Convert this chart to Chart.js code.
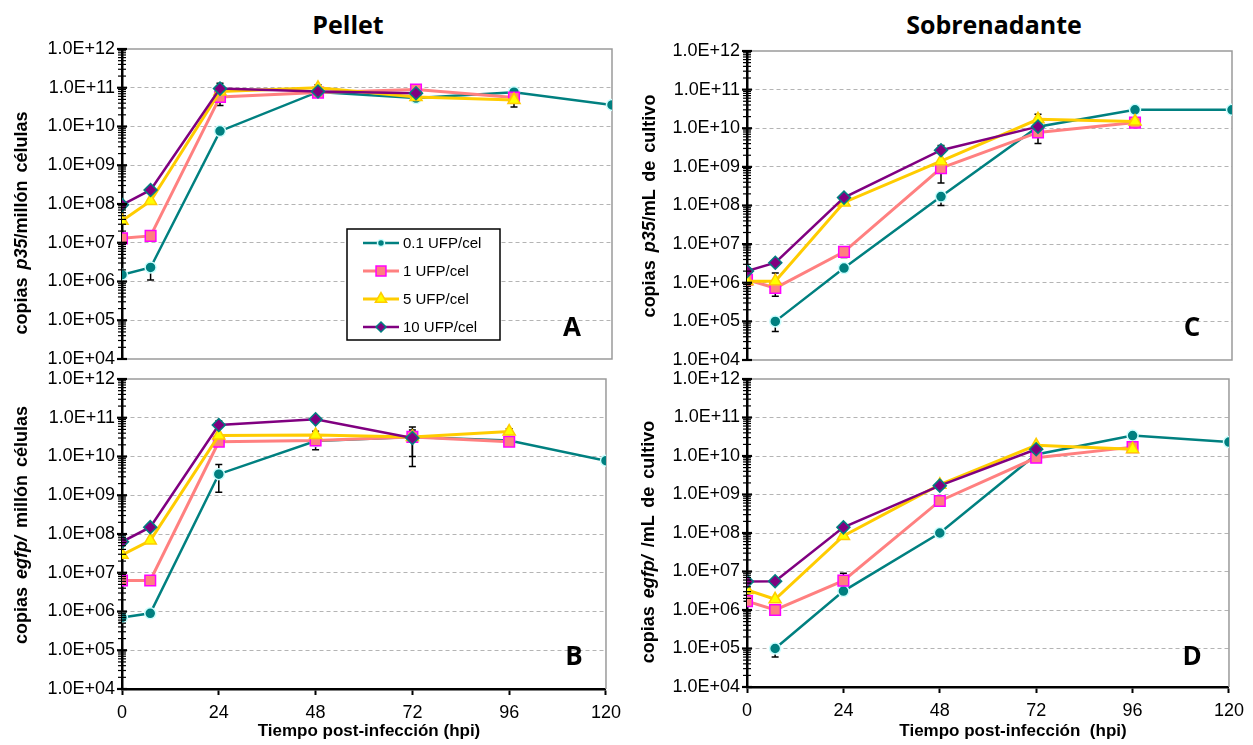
<!DOCTYPE html>
<html lang="es">
<head>
<meta charset="utf-8">
<title>Copias p35 y egfp</title>
<script src="https://cdn.jsdelivr.net/npm/chart.js@4.4.1/dist/chart.umd.min.js"></script>
<style>
  body { margin: 0; background: #fff; }
  #fig { position: relative; width: 1253px; height: 745px; overflow: hidden; font-family: 'Liberation Sans', Arial, sans-serif; color: #000; }
  #fig canvas { position: absolute; }
  .head { position: absolute; top: 24px; transform: translate(-50%, -50%); font: bold 25px 'Open Sans', sans-serif; white-space: nowrap; }
  .ytitle { position: absolute; transform: translate(-50%, -50%) rotate(-90deg); font-weight: bold; font-size: 18px; white-space: nowrap; word-spacing: 3px; }
  .xtitle { position: absolute; top: 731px; transform: translate(-50%, -50%); font-weight: bold; font-size: 17px; white-space: nowrap; }
  .tag { position: absolute; transform: translate(-50%, -50%); font: bold 26px 'Open Sans', sans-serif; }
</style>
</head>
<body>
<div id="fig">
  <div class="head" style="left:348px">Pellet</div>
  <div class="head" style="left:994px">Sobrenadante</div>

  <canvas id="panelA" width="630" height="342" style="left:0;top:33px"></canvas>
  <canvas id="panelB" width="630" height="382" style="left:0;top:363px"></canvas>
  <canvas id="panelC" width="623" height="341" style="left:630px;top:35px"></canvas>
  <canvas id="panelD" width="623" height="382" style="left:630px;top:363px"></canvas>

  <div class="ytitle" style="left:21px;top:223px">copias <i>p35</i>/millón células</div>
  <div class="ytitle" style="left:21px;top:525px">copias <i>egfp/</i> millón células</div>
  <div class="ytitle" style="left:649px;top:206px">copias <i>p35</i>/mL de cultivo</div>
  <div class="ytitle" style="left:648px;top:542px">copias <i>egfp/</i> /mL de cultivo</div>

  <div class="xtitle" style="left:369px">Tiempo post-infección (hpi)</div>
  <div class="xtitle" style="left:1013px">Tiempo post-infección&nbsp; (hpi)</div>

  <div class="tag" style="left:572px;top:326px">A</div>
  <div class="tag" style="left:574px;top:655px">B</div>
  <div class="tag" style="left:1192px;top:326px">C</div>
  <div class="tag" style="left:1192px;top:655px">D</div>
</div>

<script>
const hours = [0, 7, 24, 48, 72, 96, 120];
const hourTicks = [0, 24, 48, 72, 96, 120];
const moiLabels = ['0.1 UFP/cel', '1 UFP/cel', '5 UFP/cel', '10 UFP/cel'];
const yDecades = [1e4, 1e5, 1e6, 1e7, 1e8, 1e9, 1e10, 1e11, 1e12];

// A: p35, pellet (copias / millón células)
const pelletP35_01 = [1.5e6, 2.3e6, 7.6e9, 7.8e10, 5.4e10, 7.7e10, 3.6e10];
const pelletP35_1 = [1.3e7, 1.5e7, 5.8e10, 7.5e10, 9.0e10, 5.6e10, null];
const pelletP35_5 = [3.7e7, 1.2e8, 8.0e10, 1.0e11, 5.8e10, 4.8e10, null];
const pelletP35_10 = [9.5e7, 2.3e8, 9.5e10, 8.0e10, 7.2e10, null, null];

// B: egfp, pellet
const pelletEgfp_01 = [7.0e5, 9.0e5, 3.5e9, 2.5e10, 3.2e10, 2.6e10, 7.8e9];
const pelletEgfp_1 = [6.3e6, 6.3e6, 2.4e10, 2.6e10, 3.2e10, 2.4e10, null];
const pelletEgfp_5 = [2.9e7, 6.8e7, 3.5e10, 3.6e10, 3.2e10, 4.4e10, null];
const pelletEgfp_10 = [6.3e7, 1.5e8, 6.5e10, 9.1e10, 3.0e10, null, null];

// C: p35, sobrenadante (copias / mL de cultivo)
const supP35_01 = [null, 1.0e5, 2.4e6, 1.7e8, 1.1e10, 3.0e10, 3.0e10];
const supP35_1 = [1.2e6, 7.3e5, 6.3e6, 9.3e8, 7.8e9, 1.4e10, null];
const supP35_5 = [1.1e6, 1.1e6, 1.2e8, 1.4e9, 1.7e10, 1.5e10, null];
const supP35_10 = [2.0e6, 3.3e6, 1.6e8, 2.7e9, 1.1e10, null, null];

// D: egfp, sobrenadante
const supEgfp_01 = [null, 1.0e5, 3.1e6, 1.0e8, 1.1e10, 3.4e10, 2.3e10];
const supEgfp_1 = [1.7e6, 1.0e6, 5.8e6, 6.8e8, 9.0e9, 1.7e10, null];
const supEgfp_5 = [3.3e6, 1.9e6, 8.4e7, 1.8e9, 1.9e10, 1.5e10, null];
const supEgfp_10 = [5.5e6, 5.6e6, 1.4e8, 1.7e9, 1.5e10, null, null];

// error bars: [hpi, low, high]
const errA = [[7, 1.1e6, 2.3e6], [7, 1.1e7, 1.5e7], [24, 3.5e10, 1.3e11], [48, 7.0e10, 1.2e11], [96, 3.2e10, 4.8e10]];
const errB = [[0, 5.2e5, 7.0e5], [24, 1.2e9, 6.2e9], [24, 6.5e10, 8.2e10], [48, 1.5e10, 4.5e10], [72, 5.5e9, 5.8e10], [72, 1.0e10, 4.8e10], [96, 2.2e10, 5.2e10]];
const errC = [[7, 5.5e4, 1.0e5], [7, 4.5e5, 1.8e6], [24, 4.5e6, 6.3e6], [48, 1.0e8, 1.7e8], [48, 3.8e8, 9.3e8], [48, 2.7e9, 3.6e9], [72, 4.0e9, 2.3e10]];
const errD = [[0, 1.7e6, 2.4e6], [7, 6.0e4, 1.0e5], [24, 5.8e6, 9.0e6]];

const seriesStyle = [
  { line: '#008080', fill: '#008080', edge: '#CCFFFF', shape: 'circle', radius: 5.5, width: 2.5 },
  { line: '#FF8080', fill: '#FF8080', edge: '#FF00FF', shape: 'rect', radius: 7.5, width: 3 },
  { line: '#FFCC00', fill: '#FFFF00', edge: '#FFCC00', shape: 'triangle', radius: 7, width: 3 },
  { line: '#800080', fill: '#800080', edge: '#008080', shape: 'rectRot', radius: 6.5, width: 2.5 },
];

// 18px line box -> label half height 9, + 7 padding = 16px overhang at top/bottom of y axis
const tickFont = { family: "'Liberation Sans', Arial, sans-serif", size: 18, lineHeight: 1 };

const isDecade = v => Math.abs(Math.log10(v) - Math.round(Math.log10(v))) < 1e-9;
const sciLabel = v => '1.0E+' + String(Math.round(Math.log10(v))).padStart(2, '0');

// decades plus 2..9 minor steps
const yTickValues = [];
yDecades.forEach((d, i) => {
  yTickValues.push(d);
  if (i < yDecades.length - 1) for (let m = 2; m <= 9; m++) yTickValues.push(m * d);
});

function points(vals) {
  return hours.map((h, i) => ({ x: h, y: vals[i] })).filter(p => p.y !== null);
}

function drawMarker(ctx, shape, x, y, r, fill, edge) {
  ctx.beginPath();
  if (shape === 'circle') {
    ctx.arc(x, y, r, 0, Math.PI * 2);
  } else if (shape === 'rect') {
    const h = r * Math.SQRT1_2;
    ctx.rect(x - h, y - h, 2 * h, 2 * h);
  } else if (shape === 'triangle') {
    for (let k = 0; k < 3; k++) {
      const a = k * 2 * Math.PI / 3;
      const px = x + Math.sin(a) * r, py = y - Math.cos(a) * r;
      k ? ctx.lineTo(px, py) : ctx.moveTo(px, py);
    }
    ctx.closePath();
  } else {
    ctx.moveTo(x, y - r); ctx.lineTo(x + r, y); ctx.lineTo(x, y + r); ctx.lineTo(x - r, y);
    ctx.closePath();
  }
  ctx.fillStyle = fill;
  ctx.fill();
  ctx.lineWidth = 1.5;
  ctx.strokeStyle = edge;
  ctx.stroke();
}

// grey frame on top/right (and bottom when there is no x axis)
const framePlugin = {
  id: 'frame',
  beforeDatasetsDraw(chart, args, opts) {
    const { ctx, chartArea: a } = chart;
    ctx.save();
    ctx.strokeStyle = '#9a9a9a';
    ctx.lineWidth = 1.5;
    ctx.beginPath();
    ctx.moveTo(a.left, a.top); ctx.lineTo(a.right, a.top); ctx.lineTo(a.right, a.bottom);
    if (!opts.bottomAxis) ctx.lineTo(a.left, a.bottom);
    ctx.stroke();
    ctx.restore();
  }
};

const errorBarPlugin = {
  id: 'errorBars',
  beforeDatasetsDraw(chart, args, opts) {
    const { ctx, scales: { x, y } } = chart;
    ctx.save();
    ctx.strokeStyle = '#000';
    ctx.lineWidth = 1.5;
    (opts.bars || []).forEach(([h, lo, hi]) => {
      const px = x.getPixelForValue(h);
      const y1 = y.getPixelForValue(lo), y2 = y.getPixelForValue(hi);
      ctx.beginPath();
      ctx.moveTo(px, y1); ctx.lineTo(px, y2);
      ctx.moveTo(px - 3.5, y1); ctx.lineTo(px + 3.5, y1);
      ctx.moveTo(px - 3.5, y2); ctx.lineTo(px + 3.5, y2);
      ctx.stroke();
    });
    ctx.restore();
  }
};

// tick marks crossing the log axis
const crossTicksPlugin = {
  id: 'crossTicks',
  afterDraw(chart) {
    const { ctx, scales: { y } } = chart;
    const x0 = y.right;
    ctx.save();
    ctx.strokeStyle = '#000';
    y.ticks.forEach(t => {
      const py = y.getPixelForValue(t.value);
      const major = isDecade(t.value);
      const len = major ? 5 : 4;
      ctx.lineWidth = major ? 2.2 : 1.2;
      ctx.beginPath();
      ctx.moveTo(x0 - len, py); ctx.lineTo(x0 + len, py);
      ctx.stroke();
    });
    ctx.restore();
  }
};

const boxLegendPlugin = {
  id: 'boxLegend',
  afterDatasetsDraw(chart, args, opts) {
    if (!opts.show) return;
    const { ctx } = chart;
    const bx = 347, by = 196, bw = 153, bh = 111;
    ctx.save();
    ctx.fillStyle = '#fff';
    ctx.fillRect(bx, by, bw, bh);
    ctx.strokeStyle = '#000';
    ctx.lineWidth = 1.5;
    ctx.strokeRect(bx, by, bw, bh);
    const sizes = [3.5, 7, 6.5, 5];
    moiLabels.forEach((label, i) => {
      const s = seriesStyle[i];
      const ry = by + 14 + i * 28;
      ctx.strokeStyle = s.line;
      ctx.lineWidth = s.width;
      ctx.beginPath();
      ctx.moveTo(bx + 16, ry); ctx.lineTo(bx + 52, ry);
      ctx.stroke();
      drawMarker(ctx, s.shape, bx + 34, ry, sizes[i], s.fill, s.edge);
      ctx.fillStyle = '#000';
      ctx.font = "15px 'Liberation Sans', Arial, sans-serif";
      ctx.textBaseline = 'middle';
      ctx.fillText(label, bx + 56, ry + 1);
    });
    ctx.restore();
  }
};

function makePanel(id, series, bars, cfg) {
  new Chart(document.getElementById(id).getContext('2d'), {
    type: 'line',
    data: {
      datasets: series.map((vals, i) => {
        const s = seriesStyle[i];
        return {
          label: moiLabels[i],
          data: points(vals),
          order: 4 - i,
          borderColor: s.line,
          borderWidth: s.width,
          tension: 0,
          pointStyle: s.shape,
          pointRadius: s.radius,
          pointBackgroundColor: s.fill,
          pointBorderColor: s.edge,
          pointBorderWidth: 1.5,
        };
      }),
    },
    options: {
      responsive: false,
      animation: false,
      events: [],
      layout: { padding: { top: 0, right: cfg.padRight, left: 0, bottom: 0 } },
      plugins: {
        legend: { display: false },
        tooltip: { enabled: false },
        frame: { bottomAxis: cfg.bottom },
        errorBars: { bars },
        boxLegend: { show: !!cfg.legend },
      },
      scales: {
        x: {
          type: 'linear', min: 0, max: 120,
          afterFit: s => { s.height = cfg.xHeight; },
          afterBuildTicks: s => { s.ticks = hourTicks.map(v => ({ value: v })); },
          ticks: { display: cfg.bottom, color: '#000', font: tickFont, padding: 9, maxRotation: 0, autoSkip: false },
          grid: { display: cfg.bottom, drawOnChartArea: false, tickLength: 6, tickColor: '#000', tickWidth: 2 },
          border: { display: cfg.bottom, color: '#000', width: 2.5 },
        },
        y: {
          type: 'logarithmic', min: 1e4, max: 1e12,
          afterFit: s => { s.width = cfg.yWidth; },
          afterBuildTicks: s => { s.ticks = yTickValues.map(v => ({ value: v })); },
          ticks: {
            autoSkip: false, padding: 7, color: '#000', font: tickFont,
            callback: v => isDecade(v) ? sciLabel(v) : '',
          },
          grid: {
            drawTicks: false, lineWidth: 1,
            color: c => (c.tick && isDecade(c.tick.value) && c.tick.value > 1e4 && c.tick.value < 1e12) ? '#b4b4b4' : 'rgba(0,0,0,0)',
          },
          border: { color: '#000', width: 2.5, dash: [4, 3] },
        },
      },
    },
    plugins: [framePlugin, errorBarPlugin, boxLegendPlugin, crossTicksPlugin],
  });
}

makePanel('panelA', [pelletP35_01, pelletP35_1, pelletP35_5, pelletP35_10], errA,
  { bottom: false, yWidth: 122, xHeight: 16, padRight: 18, legend: true });
makePanel('panelB', [pelletEgfp_01, pelletEgfp_1, pelletEgfp_5, pelletEgfp_10], errB,
  { bottom: true, yWidth: 122, xHeight: 56, padRight: 17 });
makePanel('panelC', [supP35_01, supP35_1, supP35_5, supP35_10], errC,
  { bottom: false, yWidth: 117, xHeight: 16, padRight: 21 });
makePanel('panelD', [supEgfp_01, supEgfp_1, supEgfp_5, supEgfp_10], errD,
  { bottom: true, yWidth: 117, xHeight: 58, padRight: 21 });
</script>
</body>
</html>
